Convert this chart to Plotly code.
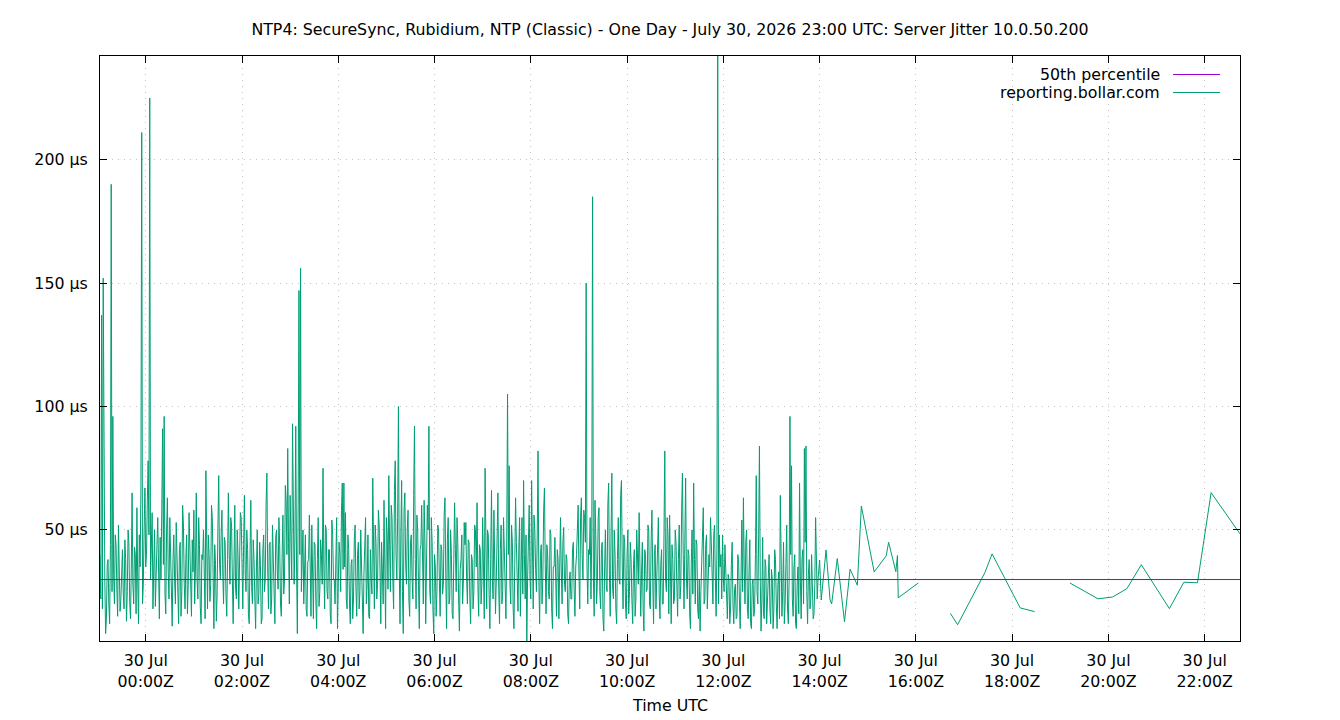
import pandas as pd
import plotly.graph_objects as go

TITLE = "NTP4: SecureSync, Rubidium, NTP (Classic) - One Day - July 30, 2026 23:00 UTC: Server Jitter 10.0.50.200"
SERIES_NAME = "reporting.bollar.com"
PCT_NAME = "50th percentile"

# Dense sampling (one sample per minute) starting at this time
dense_start = "2026-07-29 23:03"
dense_step = "1min"
dense_jitter_us = [
    40, 22, 137, 18, 152, 45, 30, 8, 14, 36, 38, 20, 12, 44, 190, 25, 96, 32, 20, 48,
    44, 26, 15, 52, 35, 17, 22, 40, 42, 24, 18, 46, 38, 13, 25, 50, 45, 21, 14, 34,
    65, 28, 20, 43, 40, 16, 59, 30, 12, 48, 35, 67, 211, 20, 28, 50, 67, 35, 40, 62,
    78, 48, 225, 30, 45, 57, 18, 35, 50, 19, 28, 44, 55, 22, 14, 47, 30, 58, 91, 36,
    96, 24, 16, 50, 63, 33, 22, 55, 42, 27, 11, 38, 48, 30, 20, 53, 36, 18, 12, 42,
    45, 15, 25, 60, 52, 28, 18, 38, 48, 16, 28, 57, 40, 23, 15, 46, 33, 58, 20, 35,
    65, 30, 22, 55, 44, 19, 12, 40, 38, 50, 25, 14, 74, 35, 18, 48, 40, 21, 28, 60,
    55, 32, 10, 44, 36, 13, 24, 52, 72, 36, 30, 48,
    58, 33, 20, 47, 45, 24, 15, 38, 65, 41, 28, 55, 52, 30, 12, 36, 60, 26, 22, 50,
    40, 18, 35, 57, 55, 29, 18, 44, 64, 32, 25, 50, 42, 16, 12, 40, 62, 27, 20, 46,
    38, 22, 10, 35, 50, 20, 24, 45, 36, 12, 14, 42, 48, 25, 30, 60, 73, 35, 18, 44,
    45, 16, 22, 52, 38, 28, 12, 47, 50, 33, 26, 55, 44, 20, 15, 39, 56, 24, 30, 68,
    62, 40, 83, 45, 20, 64, 50, 30, 93, 55, 28, 48, 92, 35, 8, 60, 147, 40, 156, 25,
    35, 50, 20, 42, 48, 18, 15, 37, 38, 56, 28, 15, 52, 33, 14, 45, 44, 22, 10, 38,
    55, 19, 25, 46, 40, 28, 75, 36, 18, 52, 50, 25, 22, 42, 42, 16, 12, 54, 48, 30,
    30, 20, 38, 55, 10, 26, 45, 40, 25, 58, 69, 34,
    69, 35, 57, 22, 18, 48, 42, 20, 12, 36, 38, 14, 22, 46, 52, 27, 15, 40, 45, 18,
    25, 50, 35, 16, 8, 32, 40, 55, 20, 28, 48, 15, 14, 42, 30, 24, 71, 38, 18, 52,
    45, 22, 28, 58, 52, 34, 12, 45, 35, 20, 62, 40, 10, 55, 48, 26, 72, 44, 25, 60,
    55, 30, 18, 66, 78, 40, 30, 55, 100, 35, 12, 48, 70, 25, 8, 58, 65, 36, 28, 50,
    58, 22, 15, 45, 48, 30, 22, 64, 92, 38, 18, 56, 50, 28, 10, 42, 44, 60, 30, 20,
    62, 45, 12, 38, 60, 50, 92, 26, 20, 55, 45, 18, 8, 40, 35, 15, 25, 52, 50, 30,
    15, 44, 42, 24, 28, 56, 63, 32, 10, 46, 55, 20, 22, 50, 40, 16, 14, 38, 61, 42,
    25, 55, 45, 22, 9, 34, 38, 48, 20, 30, 53, 44,
    53, 30, 20, 46, 45, 22, 12, 40, 38, 18, 25, 52, 50, 35, 61, 28, 15, 44, 42, 20,
    28, 55, 35, 14, 75, 42, 18, 50, 48, 24, 10, 38, 66, 30, 22, 58, 40, 16, 30, 47,
    65, 26, 12, 42, 52, 20, 25, 55, 38, 30, 14, 46, 105, 40, 76, 28, 20, 52, 45, 18,
    10, 36, 63, 45, 28, 17, 42, 55, 15, 33, 55, 24, 70, 40, 22, 48, 5, 30, 48, 60,
    30, 22, 70, 44, 18, 56, 50, 34, 25, 48, 82, 30, 12, 40, 44, 20, 30, 58, 67, 36,
    16, 44, 40, 25, 22, 50, 48, 18, 10, 35, 35, 47, 28, 15, 42, 38, 14, 28, 55, 33,
    20, 45, 51, 28, 25, 40, 38, 16, 12, 30, 33, 22, 22, 42, 45, 26, 15, 35, 40, 50,
    60, 32, 18, 55, 63, 40, 30, 58, 55, 45, 150, 35, 20, 42,
    40, 55, 22, 48, 185, 30, 15, 62, 48, 20, 30, 55, 59, 25, 18, 42, 45, 14, 9, 35,
    50, 28, 25, 60, 69, 32, 15, 47, 73, 26, 22, 50, 40, 18, 12, 38, 55, 30, 28, 64,
    70, 35, 18, 48, 45, 20, 14, 40, 50, 16, 25, 45, 38, 22, 12, 36, 42, 15, 22, 50,
    35, 28, 57, 40, 15, 32, 45, 18, 9, 42, 40, 25, 26, 52, 50, 20, 18, 46, 58, 30,
    12, 40, 44, 18, 30, 52, 55, 24, 14, 36, 42, 20, 20, 48, 82, 30, 25, 55, 48, 16,
    56, 35, 12, 44, 38, 20, 22, 50, 45, 28, 15, 38, 52, 22, 28, 58, 73, 40, 18, 45,
    71, 30, 22, 42, 40, 16, 10, 36, 50, 24, 69, 38, 20, 46, 44, 18, 14, 30, 9, 25,
    38, 48, 59, 20, 22, 44, 48, 18, 28, 40, 35, 55,
    45, 25, 20, 48, 52, 30, 15, 42, 242, 20, 48, 35, 40, 22, 48, 30, 25, 44, 35, 18,
    14, 32, 30, 12, 18, 36, 45, 20, 12, 26, 28, 14, 15, 40, 38, 22, 10, 30, 54, 25,
    63, 35, 20, 45, 50, 18, 14, 33, 46, 12, 10, 28, 30, 15, 18, 40, 72, 25, 20, 48,
    84, 30, 9, 22, 47, 16, 14, 38, 35, 12, 22, 30, 40, 18, 12, 34, 30, 10, 18, 42,
    38, 20, 10, 28, 33, 14, 64, 40, 15, 25, 45, 12, 20, 36, 52, 18, 12, 30, 96, 40,
    76, 22, 15, 35, 40, 12, 10, 28, 35, 16, 69, 30, 14, 38, 42, 20, 83, 45, 84, 25,
    12, 32, 38, 18, 22, 40, 30, 14, 16, 28, 55, 35, 22, 30,
]

# Sparse samples later in the day (None = no data, line breaks)
sparse_times = [
    "14:00", "14:02", "14:08", "14:13", "14:15", "14:22", "14:31", "14:38", "14:47",
    "14:52", "15:08", "15:23", "15:26", "15:35", "15:37", "15:38", "16:03",
    "16:20",
    "16:43", "16:52", "17:26", "17:35", "18:10", "18:28",
    "18:50",
    "19:12", "19:47", "20:05", "20:23", "20:41", "21:16", "21:34", "21:51", "22:08", "22:44",
]
sparse_jitter_us = [
    37.8, 21.6, 41.9, 21.6, 20.0, 38.4, 12.8, 34.1, 27.6,
    59.7, 33.0, 39.5, 45.0, 33.1, 39.6, 22.5, 28.5,
    None,
    16.2, 11.6, 32.7, 40.3, 18.4, 16.9,
    None,
    28.5, 22.1, 22.8, 26.2, 35.9, 18.1, 28.8, 28.6, 65.1, 48.4,
]

percentile_50_us = 29.9
y_range_us = [5, 242]
y_ticks_us = [50, 100, 150, 200]
y_tick_text = ["50 μs", "100 μs", "150 μs", "200 μs"]

GREEN = "#009E73"
PURPLE = "#9400D3"
FONT = "DejaVu Sans"
FS = 15.8

dense_t = list(pd.date_range(dense_start, periods=len(dense_jitter_us), freq=dense_step))
sparse_t = [pd.Timestamp("2026-07-30 " + s) for s in sparse_times]
times = dense_t + sparse_t
values = dense_jitter_us + sparse_jitter_us

t_first, t_last = times[0], times[-1]

fig = go.Figure()
fig.add_trace(go.Scatter(
    x=times, y=values, mode="lines", name=SERIES_NAME,
    line=dict(color=GREEN, width=1), connectgaps=False, showlegend=False,
))
fig.add_trace(go.Scatter(
    x=[t_first, t_last], y=[percentile_50_us, percentile_50_us], mode="lines",
    name=PCT_NAME, line=dict(color=PURPLE, width=1), showlegend=False,
))

# gnuplot-style legend: text right-aligned, sample line on the right
legend_rows = [(PCT_NAME, PURPLE, 0.96838), (SERIES_NAME, GREEN, 0.93761)]
for label, color, yy in legend_rows:
    fig.add_annotation(x=0.9316, y=yy, xref="paper", yref="paper", text=label,
                       showarrow=False, xanchor="right", yanchor="middle",
                       font=dict(family=FONT, size=FS, color="black"))
    fig.add_shape(type="line", xref="paper", yref="paper", x0=0.9412, x1=0.9825,
                  y0=yy, y1=yy, line=dict(color=color, width=1))

fig.add_annotation(x=0.5, y=-0.111, xref="paper", yref="paper", text="Time UTC",
                   showarrow=False, xanchor="center", yanchor="middle",
                   font=dict(family=FONT, size=FS, color="black"))

fig.update_layout(
    width=1340, height=720,
    margin=dict(l=100, r=100, t=56, b=79),
    paper_bgcolor="white", plot_bgcolor="white",
    font=dict(family=FONT, size=FS, color="black"),
    title=dict(text=TITLE, x=0.5, xref="paper", y=1 - 29 / 720, yref="container",
               xanchor="center", yanchor="middle", font=dict(family=FONT, size=FS)),
    showlegend=False,
)
fig.update_xaxes(
    type="date", range=[t_first, t_last],
    tick0="2026-07-30 00:00", dtick=2 * 3600 * 1000,
    tickformat="%d %b<br>%H:%MZ",
    ticks="inside", ticklen=7, tickcolor="black",
    showline=True, linecolor="black", linewidth=1, mirror="allticks",
    showgrid=True, gridcolor="#c4c4c4", griddash="1px,5px", gridwidth=1,
    zeroline=False, tickfont=dict(family=FONT, size=FS), ticklabelstandoff=5,
)
fig.update_yaxes(
    range=y_range_us, tickvals=y_ticks_us, ticktext=y_tick_text,
    ticks="inside", ticklen=7, tickcolor="black",
    showline=True, linecolor="black", linewidth=1, mirror="allticks",
    showgrid=True, gridcolor="#c4c4c4", griddash="1px,5px", gridwidth=1,
    zeroline=False, tickfont=dict(family=FONT, size=FS), ticklabelstandoff=8,
)

fig.write_html("out.html")
